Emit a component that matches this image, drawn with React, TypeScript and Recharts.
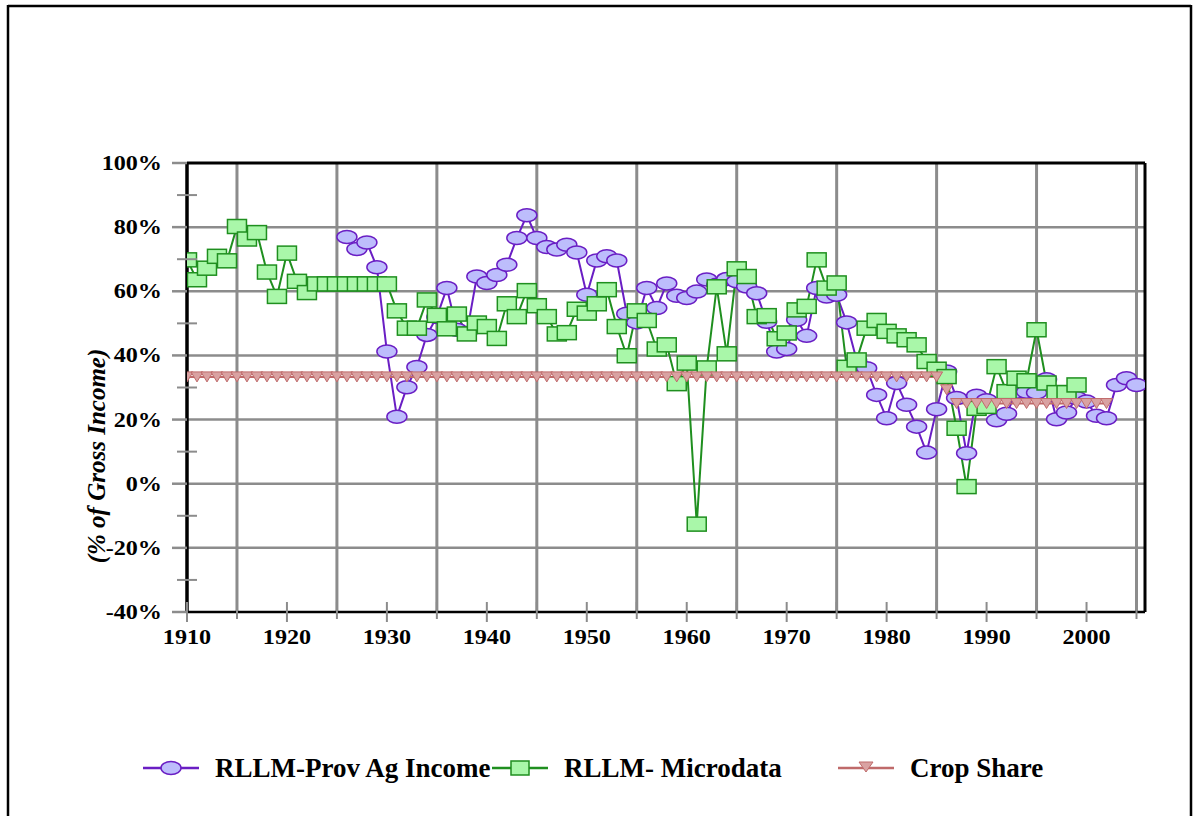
import { LineChart, Line, XAxis, YAxis, ReferenceLine } from "recharts";

// x categories (years) and axis ticks
const years = [
  1910, 1911, 1912, 1913, 1914, 1915, 1916, 1917, 1918, 1919,
  1920, 1921, 1922, 1923, 1924, 1925, 1926, 1927, 1928, 1929,
  1930, 1931, 1932, 1933, 1934, 1935, 1936, 1937, 1938, 1939,
  1940, 1941, 1942, 1943, 1944, 1945, 1946, 1947, 1948, 1949,
  1950, 1951, 1952, 1953, 1954, 1955, 1956, 1957, 1958, 1959,
  1960, 1961, 1962, 1963, 1964, 1965, 1966, 1967, 1968, 1969,
  1970, 1971, 1972, 1973, 1974, 1975, 1976, 1977, 1978, 1979,
  1980, 1981, 1982, 1983, 1984, 1985, 1986, 1987, 1988, 1989,
  1990, 1991, 1992, 1993, 1994, 1995, 1996, 1997, 1998, 1999,
  2000, 2001, 2002, 2003, 2004, 2005,
];
const xTicks = [
  1910, 1915, 1920, 1925, 1930, 1935, 1940, 1945, 1950, 1955,
  1960, 1965, 1970, 1975, 1980, 1985, 1990, 1995, 2000, 2005,
];
const gridYears = [1915, 1925, 1935, 1945, 1955, 1965, 1975, 1985, 1995, 2005];
const yTicks = [-40, -30, -20, -10, 0, 10, 20, 30, 40, 50, 60, 70, 80, 90, 100];
const yGrid = [-20, 0, 20, 40, 60, 80];

// RLLM-Prov Ag Income, 1926-2005
const provAgStart = 1926;
const provAgIncome = [
  76.9, 73.2, 75.2, 67.5, 41.2, 20.9, 30.1, 36.4, 46.4, 52.0,
  61.0, 48.0, 47.0, 64.6, 62.6, 65.1, 68.3, 76.6, 83.7, 76.6,
  73.8, 73.0, 74.5, 72.1, 58.9, 69.6, 70.9, 69.6, 53.0, 50.3,
  61.0, 54.8, 62.4, 58.6, 57.9, 59.9, 63.7, 62.0, 63.8, 63.1,
  61.5, 59.4, 50.5, 41.2, 42.0, 51.1, 46.1, 61.0, 58.4, 58.9,
  50.3, 38.5, 36.0, 27.7, 20.4, 31.4, 24.6, 17.8, 9.7, 23.2,
  35.0, 26.7, 9.5, 27.4, 26.0, 19.8, 21.8, 28.7, 28.7, 28.4,
  32.6, 20.1, 22.2, 26.7, 25.6, 21.2, 20.4, 30.8, 32.9, 30.8,
];

// RLLM- Microdata, 1910-1999
const microdata = [
  69.8, 63.6, 67.2, 70.9, 69.5, 80.2, 76.3, 78.3, 66.0, 58.4,
  71.9, 63.1, 59.6, 62.3, 62.3, 62.3, 62.3, 62.3, 62.3, 62.3,
  62.3, 53.9, 48.5, 48.5, 57.3, 52.5, 48.3, 52.9, 46.7, 50.1,
  49.0, 45.3, 56.1, 52.1, 60.2, 55.5, 52.1, 46.7, 47.1, 54.4,
  53.2, 56.1, 60.5, 49.0, 39.9, 53.9, 50.9, 42.0, 43.3, 31.2,
  37.6, -12.6, 36.1, 61.4, 40.5, 67.0, 64.6, 52.1, 52.4, 45.2,
  47.0, 54.2, 55.3, 69.8, 61.0, 62.6, 36.3, 38.6, 48.5, 50.9,
  47.5, 46.1, 44.9, 43.3, 38.1, 35.7, 33.4, 17.3, -0.9, 23.5,
  24.1, 36.5, 28.7, 32.9, 32.1, 48.0, 31.4, 28.4, 28.4, 30.8,
];

// Crop Share, 1910-2002
const cropShare = [
  33.3, 33.3, 33.3, 33.3, 33.3, 33.3, 33.3, 33.3, 33.3, 33.3,
  33.3, 33.3, 33.3, 33.3, 33.3, 33.3, 33.3, 33.3, 33.3, 33.3,
  33.3, 33.3, 33.3, 33.3, 33.3, 33.3, 33.3, 33.3, 33.3, 33.3,
  33.3, 33.3, 33.3, 33.3, 33.3, 33.3, 33.3, 33.3, 33.3, 33.3,
  33.3, 33.3, 33.3, 33.3, 33.3, 33.3, 33.3, 33.3, 33.3, 33.3,
  33.3, 33.3, 33.3, 33.3, 33.3, 33.3, 33.3, 33.3, 33.3, 33.3,
  33.3, 33.3, 33.3, 33.3, 33.3, 33.3, 33.3, 33.3, 33.3, 33.3,
  33.3, 33.3, 33.3, 33.3, 33.3, 33.3, 29.3, 25.0, 25.0, 25.0,
  25.0, 25.0, 25.0, 25.0, 25.0, 25.0, 25.0, 25.0, 25.0, 25.0,
  25.0, 25.0, 25.0,
];

const data = years.map((year, i) => ({
  year,
  prov: provAgIncome[year - provAgStart] ?? null,
  micro: microdata[i] ?? null,
  crop: cropShare[i] ?? null,
}));

const FONT = "'Liberation Serif', 'Times New Roman', serif";
const GRID = "#8c8c8c";
const PURPLE = "#6a1ec4";
const PURPLE_FILL = "#bdbdfc";
const GREEN = "#1f8f1f";
const GREEN_FILL = "#a9f7a9";
const RED = "#bf6a6a";
const RED_FILL = "#d9a2a2";

function YTick(props: any) {
  const { x, y, payload } = props;
  const v = payload.value;
  const major = v % 20 === 0;
  return (
    <g>
      {major ? (
        <line x1={x - 15} x2={x} y1={y} y2={y} stroke={GRID} strokeWidth={2.5} />
      ) : (
        <line x1={x - 10} x2={x + 10} y1={y} y2={y} stroke={GRID} strokeWidth={2} />
      )}
      {major && (
        <text
          transform={`translate(${x - 25},${y + 7}) scale(1.15,1)`}
          textAnchor="end"
          fontFamily={FONT}
          fontWeight="bold"
          fontSize={21}
          fill="#000"
        >
          {v}%
        </text>
      )}
    </g>
  );
}

function XTick(props: any) {
  const { x, y, payload } = props;
  const v = payload.value;
  const labeled = v % 10 === 0 && v <= 2000;
  return (
    <g>
      <line x1={x} x2={x} y1={y - 10} y2={y + (labeled ? 10 : 7)} stroke={GRID} strokeWidth={2} />
      {labeled && (
        <text
          transform={`translate(${x},${y + 32}) scale(1.15,1)`}
          textAnchor="middle"
          fontFamily={FONT}
          fontWeight="bold"
          fontSize={21}
          fill="#000"
        >
          {v}
        </text>
      )}
    </g>
  );
}

function CircleDot(props: any) {
  const { cx, cy, index } = props;
  if (cx == null || cy == null || props.value == null) return <g key={`p${index}`} />;
  return (
    <ellipse key={`p${index}`} cx={cx} cy={cy} rx={10} ry={6.5} fill={PURPLE_FILL} stroke={PURPLE} strokeWidth={1.5} />
  );
}

function SquareDot(props: any) {
  const { cx, cy, index } = props;
  if (cx == null || cy == null || props.value == null) return <g key={`m${index}`} />;
  return (
    <rect key={`m${index}`} x={cx - 9.5} y={cy - 7} width={19} height={14} fill={GREEN_FILL} stroke={GREEN} strokeWidth={1.5} />
  );
}

function TriangleDot(props: any) {
  const { cx, cy, index } = props;
  if (cx == null || cy == null || props.value == null) return <g key={`c${index}`} />;
  return (
    <polygon
      key={`c${index}`}
      points={`${cx - 6},${cy - 5} ${cx + 6},${cy - 5} ${cx},${cy + 5}`}
      fill={RED_FILL}
      stroke={RED}
      strokeWidth={1}
    />
  );
}

function LegendIcon({ kind }: { kind: "circle" | "square" | "triangle" }) {
  const color = kind === "circle" ? PURPLE : kind === "square" ? GREEN : RED;
  return (
    <svg width={56} height={24} style={{ display: "block" }}>
      <line x1={0} x2={56} y1={12} y2={12} stroke={color} strokeWidth={2.5} />
      {kind === "circle" && <ellipse cx={28} cy={12} rx={10} ry={6.5} fill={PURPLE_FILL} stroke={PURPLE} strokeWidth={1.5} />}
      {kind === "square" && <rect x={19} y={5} width={18} height={14} fill={GREEN_FILL} stroke={GREEN} strokeWidth={1.5} />}
      {kind === "triangle" && <polygon points="21,6 35,6 28,16" fill={RED_FILL} stroke={RED} strokeWidth={1} />}
    </svg>
  );
}

const legendItems = [
  { label: "RLLM-Prov Ag Income", kind: "circle" as const, left: 143 },
  { label: "RLLM- Microdata", kind: "square" as const, left: 492 },
  { label: "Crop Share", kind: "triangle" as const, left: 838 },
];

export default function App() {
  return (
    <div style={{ position: "absolute", left: 0, top: 0, width: 1198, height: 816, background: "#fff", overflow: "hidden" }}>
      <LineChart
        width={1198}
        height={816}
        data={data}
        margin={{ top: 163, right: 53, left: 127, bottom: 154 }}
      >
        <XAxis
          dataKey="year"
          type="number"
          domain={[1910, 2005.85]}
          ticks={xTicks}
          interval={0}
          tickSize={0}
          tickMargin={0}
          height={50}
          axisLine={{ stroke: "#000", strokeWidth: 2.5 }}
          tick={<XTick />}
          allowDataOverflow
        />
        <YAxis
          type="number"
          domain={[-40, 100]}
          ticks={yTicks}
          interval={0}
          tickSize={0}
          tickMargin={0}
          width={60}
          axisLine={{ stroke: "#000", strokeWidth: 3.5 }}
          tick={<YTick />}
          allowDataOverflow
        />
        {yGrid.map((v) => (
          <ReferenceLine key={`h${v}`} y={v} stroke={GRID} strokeWidth={2.5} />
        ))}
        {gridYears.map((yr) => (
          <ReferenceLine key={`v${yr}`} x={yr} stroke={GRID} strokeWidth={3} />
        ))}
        <ReferenceLine y={100} stroke="#000" strokeWidth={3} />
        <ReferenceLine x={2005.85} stroke="#000" strokeWidth={3} />
        <Line
          dataKey="prov"
          name="RLLM-Prov Ag Income"
          stroke={PURPLE}
          strokeWidth={2}
          dot={CircleDot}
          activeDot={false}
          isAnimationActive={false}
        />
        <Line
          dataKey="micro"
          name="RLLM- Microdata"
          stroke={GREEN}
          strokeWidth={2}
          dot={SquareDot}
          activeDot={false}
          isAnimationActive={false}
        />
        <Line
          dataKey="crop"
          name="Crop Share"
          stroke={RED}
          strokeWidth={2}
          dot={TriangleDot}
          activeDot={false}
          isAnimationActive={false}
        />
      </LineChart>

      <svg width={1198} height={816} style={{ position: "absolute", left: 0, top: 0, pointerEvents: "none" }}>
        <line x1={8} x2={1191} y1={6} y2={6} stroke="#000" strokeWidth={2.5} />
        <line x1={8} x2={8} y1={5} y2={816} stroke="#000" strokeWidth={2.5} />
        <line x1={1191} x2={1191} y1={5} y2={816} stroke="#000" strokeWidth={2.5} />
        <text
          transform="translate(105,456) rotate(-90)"
          textAnchor="middle"
          fontFamily={FONT}
          fontWeight="bold"
          fontStyle="italic"
          fontSize={25}
          fill="#000"
        >
          (% of Gross Income)
        </text>
      </svg>

      {legendItems.map((it) => (
        <div
          key={it.label}
          style={{
            position: "absolute",
            left: it.left,
            top: 755,
            display: "flex",
            alignItems: "center",
            fontFamily: FONT,
            fontWeight: "bold",
            fontSize: 27,
            whiteSpace: "nowrap",
            lineHeight: "26px",
          }}
        >
          <LegendIcon kind={it.kind} />
          <span style={{ marginLeft: 16 }}>{it.label}</span>
        </div>
      ))}
    </div>
  );
}
